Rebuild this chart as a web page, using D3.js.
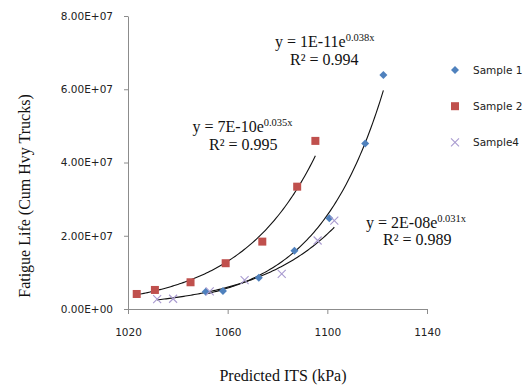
<!DOCTYPE html>
<html><head><meta charset="utf-8">
<script src="https://cdn.jsdelivr.net/npm/d3@7"></script>
<style>html,body{margin:0;padding:0;background:#fff;}</style>
</head><body>
<svg id="c" width="529" height="387"></svg>
<script>
const seriesNames = ["Sample 1", "Sample 2", "Sample4"];
const s1x = [1051.2, 1058.1, 1072.5, 1086.8, 1100.8, 1115.2, 1122.5];
const s1y = [4.7e6, 4.9e6, 8.5e6, 1.59e7, 2.48e7, 4.52e7, 6.39e7];
const s2x = [1023.5, 1030.8, 1045.1, 1059.2, 1073.9, 1087.9, 1095.2];
const s2y = [4.1e6, 5.2e6, 7.3e6, 1.25e7, 1.84e7, 3.34e7, 4.59e7];
const s4x = [1031.7, 1038.1, 1052.8, 1066.8, 1081.7, 1096.1, 1102.8];
const s4y = [2.7e6, 2.8e6, 4.8e6, 7.9e6, 9.6e6, 1.87e7, 2.41e7];
const xTicks = [1020, 1060, 1100, 1140];
const xTickLabels = ["1020", "1060", "1100", "1140"];
const yTicks = [0, 2e7, 4e7, 6e7, 8e7];
const yTickLabels = ["0.00E+00", "2.00E+07", "4.00E+07", "6.00E+07", "8.00E+07"];
const eqMain = ["y = 1E-11e", "y = 7E-10e", "y = 2E-08e"];
const eqExp = ["0.038x", "0.035x", "0.031x"];
const eqR2 = ["R\u00B2 = 0.994", "R\u00B2 = 0.995", "R\u00B2 = 0.989"];

const svg = d3.select("#c");
const L = 128, T = 16, R = 427, B = 309;
const x = d3.scaleLinear().domain([1020, 1140]).range([L, R]);
const y = d3.scaleLinear().domain([0, 8e7]).range([B, T]);
const axisColor = "#8c8c8c";

// axes
const xa = svg.append("g").attr("transform", `translate(0,${B})`)
  .call(d3.axisBottom(x).tickValues(xTicks).tickSize(5).tickPadding(15).tickSizeOuter(0)
    .tickFormat((d, i) => xTickLabels[i]));
const ya = svg.append("g").attr("transform", `translate(${L},0)`)
  .call(d3.axisLeft(y).tickValues(yTicks).tickSize(4).tickPadding(11).tickSizeOuter(0)
    .tickFormat((d, i) => yTickLabels[i]));
[xa, ya].forEach(g => {
  g.select(".domain").attr("stroke", axisColor);
  g.selectAll(".tick line").attr("stroke", axisColor);
  g.selectAll("text").attr("font-family", "DejaVu Sans").attr("font-size", "10.5px").attr("fill", "#222");
});

// trendlines (least squares exponential fit, like Excel)
function expFit(xs, ys) {
  const n = xs.length;
  const ly = ys.map(Math.log);
  const mx = d3.mean(xs), my = d3.mean(ly);
  let sxy = 0, sxx = 0;
  for (let i = 0; i < n; i++) { sxy += (xs[i]-mx)*(ly[i]-my); sxx += (xs[i]-mx)**2; }
  const b = sxy / sxx, a = my - b*mx;
  return v => Math.exp(a + b*v);
}
const series = [
  {xs: s1x, ys: s1y}, {xs: s2x, ys: s2y}, {xs: s4x, ys: s4y}
];
const line = d3.line().x(d => x(d[0])).y(d => y(d[1]));
series.forEach(s => {
  const f = expFit(s.xs, s.ys);
  const [x0, x1] = d3.extent(s.xs);
  const pts = d3.range(0, 101).map(i => { const v = x0 + (x1-x0)*i/100; return [v, f(v)]; });
  svg.append("path").attr("d", line(pts)).attr("fill", "none").attr("stroke", "#111").attr("stroke-width", 1.1);
});

// markers
function diamond(g, cx, cy, s, col) {
  g.append("path").attr("d", `M${cx},${cy-s}L${cx+s},${cy}L${cx},${cy+s}L${cx-s},${cy}Z`).attr("fill", col);
}
function square(g, cx, cy, s, col) {
  g.append("rect").attr("x", cx-s).attr("y", cy-s).attr("width", 2*s).attr("height", 2*s).attr("fill", col);
}
function cross(g, cx, cy, s, col) {
  g.append("path").attr("d", `M${cx-s},${cy-s}L${cx+s},${cy+s}M${cx-s},${cy+s}L${cx+s},${cy-s}`)
    .attr("stroke", col).attr("stroke-width", 1.1).attr("fill", "none");
}
const cols = ["#4f81bd", "#c0504d", "#a99bd0"];
const drawers = [(g,cx,cy)=>diamond(g,cx,cy,4,cols[0]), (g,cx,cy)=>square(g,cx,cy,4,cols[1]), (g,cx,cy)=>cross(g,cx,cy,4,cols[2])];
const mg = svg.append("g");
series.forEach((s, k) => {
  s.xs.forEach((v, i) => drawers[k](mg, x(v), y(s.ys[i])));
});

// legend
const lg = svg.append("g");
seriesNames.forEach((n, i) => {
  const cy = 70 + i * 36.2;
  drawers[i](lg, 455, cy);
  lg.append("text").attr("x", 473).attr("y", cy + 4).text(n)
    .attr("font-family", "DejaVu Sans").attr("font-size", "10.5px").attr("fill", "#222");
});

// equations
const eqPos = [[275, 46.5, 290, 65], [192.5, 131.5, 209, 150], [366, 228, 383, 245]];
eqPos.forEach((p, i) => {
  const t = svg.append("text").attr("x", p[0]).attr("y", p[1])
    .attr("font-family", "Liberation Serif").attr("font-size", "16px").attr("fill", "#111");
  t.append("tspan").text(eqMain[i]);
  t.append("tspan").text(eqExp[i]).attr("font-size", "10.5px").attr("dy", -6);
  svg.append("text").attr("x", p[2]).attr("y", p[3]).text(eqR2[i])
    .attr("font-family", "Liberation Serif").attr("font-size", "16px").attr("fill", "#111");
});

// axis titles
svg.append("text").attr("x", 283).attr("y", 381).attr("text-anchor", "middle")
  .attr("font-family", "Liberation Serif").attr("font-size", "16px").attr("fill", "#111")
  .text("Predicted ITS (kPa)");
svg.append("text").attr("transform", "translate(30,196) rotate(-90)").attr("text-anchor", "middle")
  .attr("font-family", "Liberation Serif").attr("font-size", "16px").attr("fill", "#111")
  .text("Fatigue Life (Cum Hvy Trucks)");
</script>
</body></html>
